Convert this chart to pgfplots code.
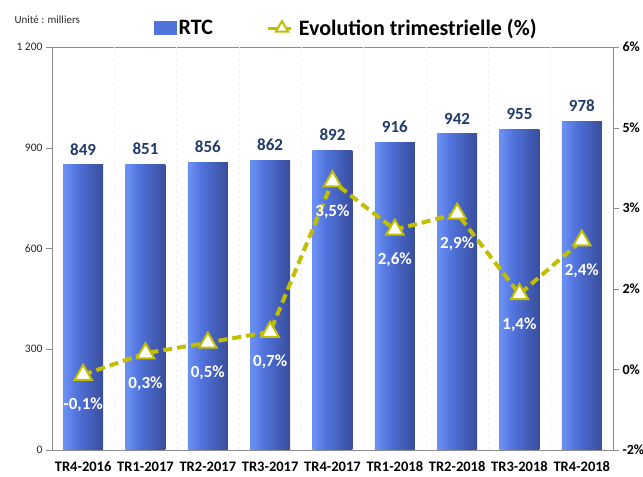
\documentclass[border=0pt]{standalone}
\usepackage{fontspec}
\setmainfont{Carlito}
\usepackage{pgfplots}
\pgfplotsset{compat=1.18}
\definecolor{barL}{HTML}{6A8FF2}
\definecolor{barM}{HTML}{5073DC}
\definecolor{barR}{HTML}{3A4F9E}
\definecolor{lineY}{HTML}{C2BE00}
\definecolor{navy}{HTML}{1F3A6B}
\definecolor{axgray}{HTML}{8C8C8C}
\pgfdeclarehorizontalshading{barshade}{100bp}{color(0bp)=(barL); color(27bp)=(barL); color(42bp)=(barM); color(73bp)=(barR); color(100bp)=(barR)}
\pgfplotsset{barst/.style={ybar, bar width=40bp, bar shift=0pt, draw=none, shading=barshade}}
\begin{document}
\begin{tikzpicture}
\useasboundingbox (-52bp,-27bp) rectangle (591bp,450bp);
\begin{axis}[
  at={(0,0)}, anchor=south west,
  scale only axis, width=561bp, height=403bp,
  xmin=-0.5, xmax=8.5, ymin=0, ymax=1200,
  axis line style={axgray},
  xtick={0,...,8},
  xticklabels={TR4-2016,TR1-2017,TR2-2017,TR3-2017,TR4-2017,TR1-2018,TR2-2018,TR3-2018,TR4-2018},
  x tick label style={font=\fontsize{14.5bp}{16bp}\selectfont\bfseries, yshift=-2bp},
  major x tick style={draw=none},
  extra x ticks={0.5,1.5,...,7.5},
  extra x tick labels={},
  extra x tick style={grid=major, major grid style={gray!12, dashed}, tick style={axgray}, major tick length=6bp},
  xtick pos=bottom, tick align=outside,
  ytick={0,300,600,900,1200},
  yticklabels={0,300,600,900,1 200},
  y tick label style={font=\fontsize{11.5bp}{13bp}\selectfont, color=black!85},
  ytick pos=left,
  y tick style={axgray}, major tick length=6bp,
  nodes near coords,
  /pgf/number format/assume math mode=true,
  every node near coord/.append style={font=\fontsize{17bp}{19bp}\selectfont\bfseries, color=navy, anchor=south, yshift=6bp},
]
\addplot[barst] coordinates {(0,849)};
\addplot[barst] coordinates {(1,851)};
\addplot[barst] coordinates {(2,856)};
\addplot[barst] coordinates {(3,862)};
\addplot[barst] coordinates {(4,892)};
\addplot[barst] coordinates {(5,916)};
\addplot[barst] coordinates {(6,942)};
\addplot[barst] coordinates {(7,955)};
\addplot[barst] coordinates {(8,978)};
\end{axis}
\node[anchor=west, font=\fontsize{11bp}{13bp}\selectfont, color=black!85] at (-41bp,430bp) {Unité : milliers};
\begin{axis}[
  at={(0,0)}, anchor=south west,
  scale only axis, width=561bp, height=403bp,
  xmin=-0.5, xmax=8.5, ymin=-1.5, ymax=6,
  axis x line=none,
  axis y line*=right,
  axis line style={axgray},
  ytick={-1.5,0,1.5,3,4.5,6},
  yticklabels={-2\%,0\%,2\%,3\%,5\%,6\%},
  y tick label style={font=\fontsize{14bp}{16bp}\selectfont\bfseries},
  y tick style={axgray}, major tick length=6bp, tick align=outside,
  legend style={at={(0.525,1.047)}, anchor=center, draw=none, fill=none,
    legend columns=2, font=\fontsize{22bp}{24bp}\selectfont\bfseries,
    /tikz/every even column/.append style={column sep=52bp}},
]
\addlegendimage{legend image code/.code={\fill[barM] (0bp,-6.5bp) rectangle (22bp,6.5bp);}}
\addlegendentry{RTC}
\addplot[color=lineY, line width=4bp, dash pattern=on 9bp off 5bp,
  mark=triangle*, mark size=10bp, mark options={solid, fill=white, draw=lineY, line width=2bp},
  legend image code/.code={\draw[lineY, line width=3bp] (0bp,0bp) -- (27bp,0bp);
     \draw[lineY, fill=white, line width=1.5bp, mark size=7bp] plot[mark=triangle*, only marks] coordinates {(13.5bp,0bp)};},
  point meta=explicit symbolic,
  nodes near coords,
  every node near coord/.append style={font=\fontsize{17bp}{19bp}\selectfont\bfseries, color=white, anchor=north, yshift=-19bp}]
  table[meta=lab] {
x y lab
0 -0.1 -0,1\%
1 0.3 0,3\%
2 0.5 0,5\%
3 0.7 0,7\%
4 3.5 3,5\%
5 2.6 2,6\%
6 2.9 2,9\%
7 1.4 1,4\%
8 2.4 2,4\%
};
\addlegendentry{Evolution trimestrielle (\%)}
\end{axis}
\end{tikzpicture}
\end{document}
